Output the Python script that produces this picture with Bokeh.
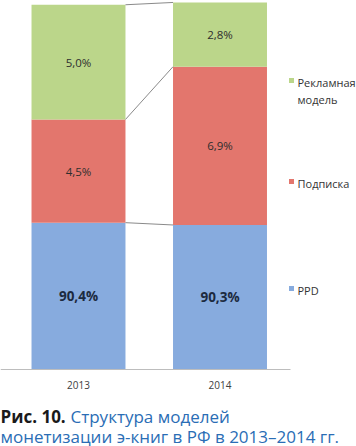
from bokeh.plotting import figure
from bokeh.models import Range1d, Label, BoxAnnotation, ColumnDataSource
from bokeh.core.properties import value
from bokeh.embed import file_html
from bokeh.resources import INLINE

# ---- data ----
years = ["2013", "2014"]
ppd = [90.4, 90.3]
subscription = [4.5, 6.9]
advertising = [5.0, 2.8]
series_labels = ["Рекламная\nмодель", "Подписка", "PPD"]
caption_bold = "Рис. 10."
caption_line1 = "Структура моделей"
caption_line2 = "монетизации э-книг в РФ в 2013–2014 гг."

# the original chart compresses the PPD segment (broken scale)
AXIS_BREAK = 84.0

FONT = "Open Sans"
W, H = 356, 446
BASE_Y = 369          # canvas pixel row of the category axis
AXIS_END_X = 290      # canvas pixel where the axis line ends
BAR_W = 0.664
PX_X = 141.5          # pixels per category step
X0 = 78               # canvas x of first category
PX_Y = 22.94          # pixels per (visible) percent unit

xs = list(range(len(years)))
ppd_vis = [v - AXIS_BREAK for v in ppd]
b0 = [0.0 for _ in xs]
b1 = ppd_vis
b2 = [a + s for a, s in zip(ppd_vis, subscription)]
b3 = [a + s for a, s in zip(b2, advertising)]

p = figure(width=W, height=H, output_backend="svg", toolbar_location=None,
           x_range=Range1d(-X0 / PX_X, (W - X0) / PX_X),
           y_range=Range1d(-(H - BASE_Y) / PX_Y, BASE_Y / PX_Y),
           x_axis_location=None, y_axis_location=None,
           min_border=0, min_border_left=0, min_border_right=0,
           min_border_top=0, min_border_bottom=0)
p.outline_line_color = None
p.xgrid.visible = False
p.ygrid.visible = False
p.background_fill_color = "white"
p.border_fill_color = "white"

GREEN, RED, BLUE = "#bbd68a", "#e3766d", "#87abde"

src = ColumnDataSource(dict(x=xs, b0=b0, b1=b1, b2=b2, b3=b3))
p.vbar(x="x", width=BAR_W, bottom="b0", top="b1", source=src, fill_color=BLUE, line_color=None)
p.vbar(x="x", width=BAR_W, bottom="b1", top="b2", source=src, fill_color=RED, line_color=None)
p.vbar(x="x", width=BAR_W, bottom="b2", top="b3", source=src, fill_color=GREEN, line_color=None)

# connector lines between bars
n = len(xs)
for lvl in (b1, b2, b3):
    p.segment(x0=[xs[i] + BAR_W / 2 for i in range(n - 1)],
              y0=[lvl[i] for i in range(n - 1)],
              x1=[xs[i + 1] - BAR_W / 2 for i in range(n - 1)],
              y1=[lvl[i + 1] for i in range(n - 1)],
              line_color="#8a8a8a", line_width=1)

# category axis line and labels
p.segment(x0=[-X0 / PX_X], y0=[0], x1=[(AXIS_END_X - X0) / PX_X], y1=[0],
          line_color="#bdbdbd", line_width=1)
p.text(x=xs, y=[-15 / PX_Y] * n, text=years, text_font=value(FONT),
       text_font_size="10px", text_color="#404040", text_align="center",
       text_baseline="middle")

def fmt(v):
    return f"{v:.1f}%".replace(".", ",")

lab_small = ColumnDataSource(dict(
    x=xs + xs,
    y=[(a + b) / 2 for a, b in zip(b1, b2)] + [(a + b) / 2 for a, b in zip(b2, b3)],
    t=[fmt(v) for v in subscription] + [fmt(v) for v in advertising]))
p.text(x="x", y="y", text="t", source=lab_small, text_font=value(FONT),
       text_font_size="11.5px", text_color="#2e2e2e", text_align="center",
       text_baseline="middle")
lab_big = ColumnDataSource(dict(x=xs, y=[(a + b) / 2 for a, b in zip(b0, b1)],
                                t=[fmt(v) for v in ppd]))
p.text(x="x", y="y", text="t", source=lab_big, text_font=value(FONT),
       text_font_size="13.5px", text_font_style="bold", text_color="#1c2a40",
       text_align="center", text_baseline="middle")

# legend (manual), screen units measured from frame bottom
def sy(y):
    return H - y

leg = [(series_labels[0], GREEN, 80), (series_labels[1], RED, 181), (series_labels[2], BLUE, 288)]
for text, col, cy in leg:
    p.add_layout(BoxAnnotation(left=288.5, right=293.5, top=sy(cy - 2.5), bottom=sy(cy + 2.5),
                               left_units="screen", right_units="screen",
                               top_units="screen", bottom_units="screen",
                               fill_color=col, fill_alpha=1, line_color=None))
    for k, line in enumerate(text.split("\n")):
        p.add_layout(Label(x=297, y=sy(cy + 1.5 + 17.5 * k), x_units="screen", y_units="screen",
                           text=line, text_font=FONT, text_font_size="11px",
                           text_color="#333333", text_baseline="alphabetic"))

# caption
CAP1, CAP2 = 415.5, 435.5
p.add_layout(Label(x=0, y=sy(CAP1), x_units="screen", y_units="screen", text=caption_bold,
                   text_font=FONT, text_font_size="17px", text_font_style="bold",
                   text_color="#1a1a1a", text_baseline="alphabetic"))
p.add_layout(Label(x=70, y=sy(CAP1), x_units="screen", y_units="screen", text=caption_line1,
                   text_font=FONT, text_font_size="17px", text_color="#2a6db5",
                   text_baseline="alphabetic"))
p.add_layout(Label(x=0, y=sy(CAP2), x_units="screen", y_units="screen", text=caption_line2,
                   text_font=FONT, text_font_size="17px", text_color="#2a6db5",
                   text_baseline="alphabetic"))

open("out.html", "w").write(file_html(p, INLINE))
